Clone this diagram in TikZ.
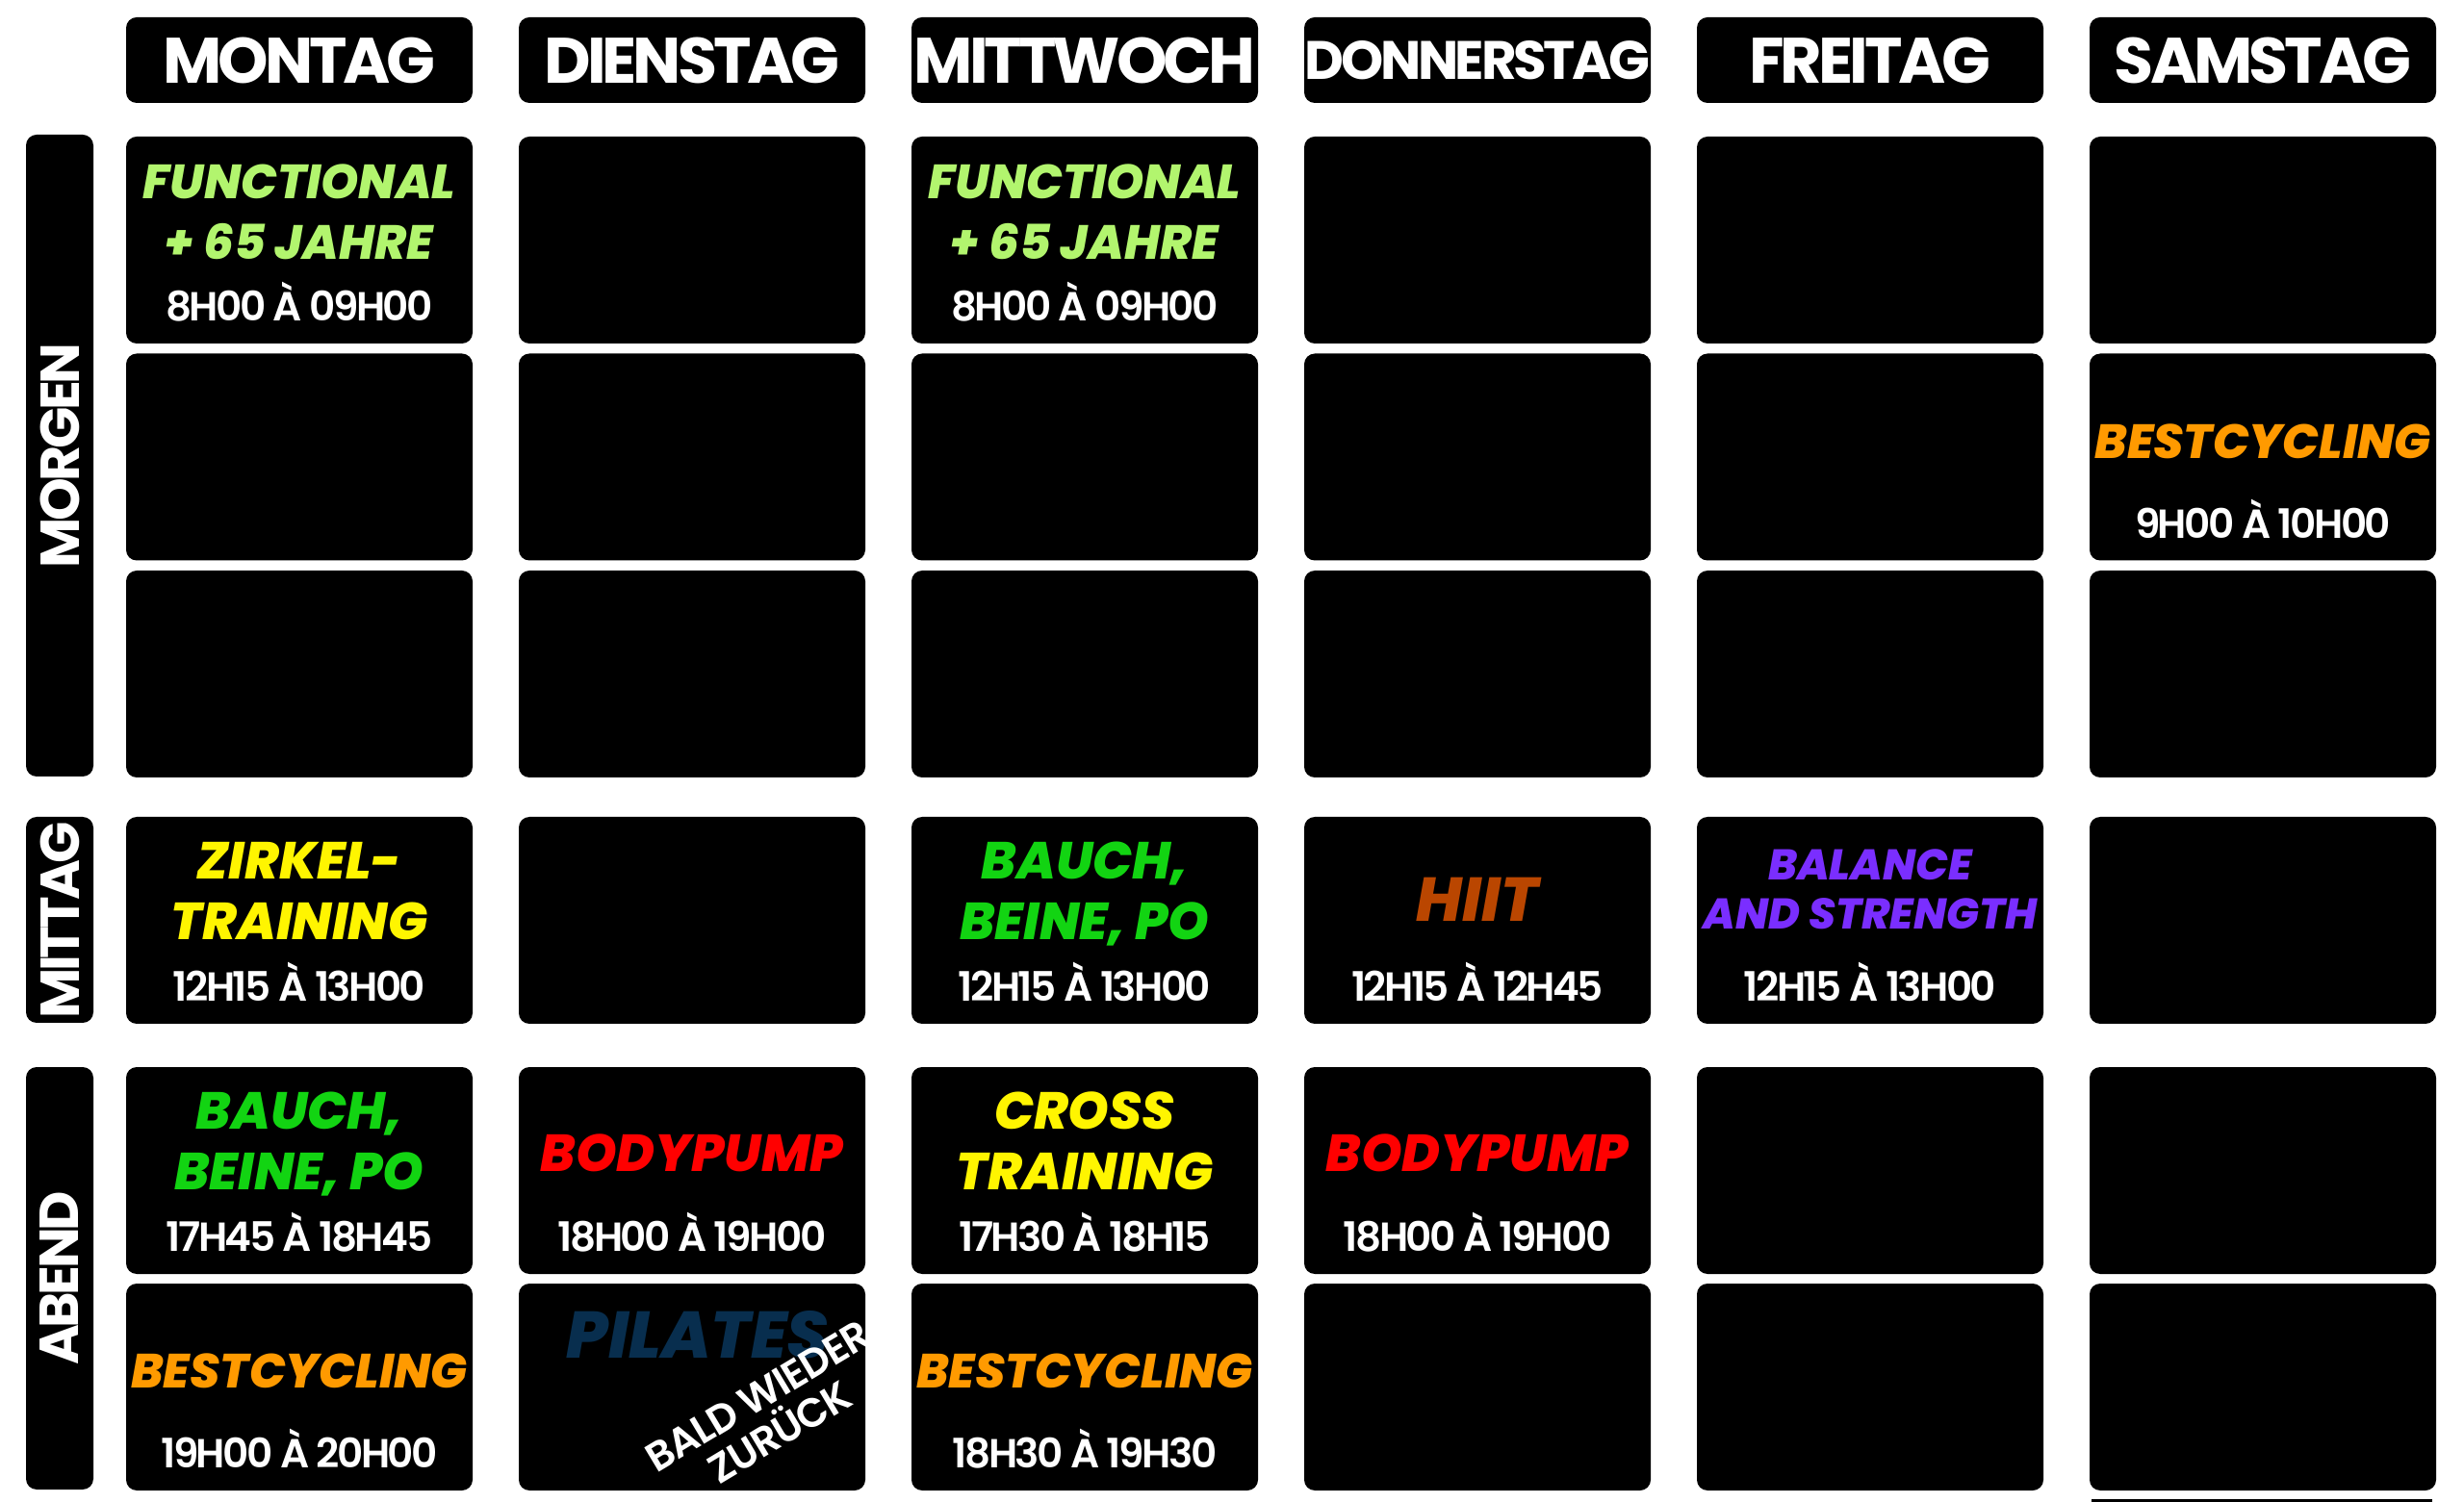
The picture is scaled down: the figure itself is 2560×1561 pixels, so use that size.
\documentclass[tikz,border=0pt]{standalone}
\usepackage{fontspec}
\setmainfont{Poppins}
\newfontfamily\HeadFont{Poppins Bold}[LetterSpace=-6]
\newfontfamily\ActFont{Poppins ExtraBold Italic}
\newfontfamily\TimeFont{Poppins SemiBold}[LetterSpace=-6]
\newfontfamily\NoteFont{Poppins SemiBold}[LetterSpace=-3]
\usetikzlibrary{calc}
\usetikzlibrary{positioning}

\definecolor{fitgreen}{RGB}{178,245,110}
\definecolor{zirkelyellow}{RGB}{255,245,0}
\definecolor{bauchgreen}{RGB}{18,212,18}
\definecolor{hiitbrown}{RGB}{186,70,0}
\definecolor{balancepurple}{RGB}{122,46,255}
\definecolor{pumpred}{RGB}{255,0,0}
\definecolor{cycleorange}{RGB}{255,154,0}
\definecolor{pilatesblue}{RGB}{8,46,78}

\begin{document}
\begin{tikzpicture}[x=0.1mm, y=-0.1mm]

\tikzstyle{daycell}=[fill=black, rounded corners=1.1mm, inner sep=0pt,
	minimum width=36mm, minimum height=21.5mm]
\tikzstyle{dayhead}=[daycell, minimum height=8.9mm]
\tikzstyle{headtext}=[inner sep=0pt, text=white]
\tikzstyle{partbar}=[fill=black, rounded corners=1.1mm, inner sep=0pt,
	minimum width=7mm]
\tikzstyle{parttext}=[inner sep=0pt, rotate=90, text=white,
	font=\HeadFont\fontsize{16.2}{16.2}\selectfont]
\tikzstyle{acttext}=[anchor=base, inner sep=0pt,
	font=\ActFont\fontsize{15.4}{15.4}\selectfont]
\tikzstyle{smallact}=[acttext, font=\ActFont\fontsize{14.2}{14.2}\selectfont]
\tikzstyle{timetext}=[anchor=base, inner sep=0pt, text=white,
	font=\TimeFont\fontsize{12}{12}\selectfont]

\def\ColLeft{131}
\def\ColStep{408}
\def\HalfW{180}
\def\HalfH{107.5}
\def\LineA{-151}
\def\LineB{-88}
\def\LineOne{-107}
\def\LineTime{-24}

% page
\fill[white] (0,0) rectangle (2560,1561);
\useasboundingbox (0,0) rectangle (2560,1561);

% day headers
\foreach \d/\name/\size [count=\i from 0] in
	{mo/MONTAG/19, di/DIENSTAG/19, mi/MITTWOCH/19,
	do/DONNERSTAG/16, fr/FREITAG/19, sa/SAMSTAG/19}
{
	\node[dayhead] (head-\d) at ({\ColLeft + \i*\ColStep + \HalfW}, 62.5) {};
	\node[headtext, font=\HeadFont\fontsize{\size}{\size}\selectfont]
		(head-\d-l) at (head-\d.center) {\name};
}

% cells
\foreach \d [count=\i from 0] in {mo, di, mi, do, fr, sa}
	\foreach \r/\top in {1/142, 2/367.5, 3/593, 4/849, 5/1109, 6/1334}
		\node[daycell] (\d\r) at ({\ColLeft + \i*\ColStep + \HalfW}, {\top + \HalfH}) {};

% sliver of the next row
\fill[black] (2173,1558) rectangle (2527,1561);

% day parts
\node[partbar, minimum height=66.7mm] (morgen) at (62, 473.5) {};
\node[partbar, minimum height=21.4mm] (mittag) at (62, 956) {};
\node[partbar, minimum height=43.9mm] (abend) at (62, 1328.5) {};
\node[parttext] (morgen-l) at (morgen.center) {MORGEN};
\node[parttext] (mittag-l) at (mittag.center) {MITTAG};
\node[parttext] (abend-l) at (abend.center) {ABEND};

% Montag
\node[smallact, text=fitgreen] (mo1-a) at ($(mo1.south)+(0,\LineA)$) {FUNCTIONAL};
\node[smallact, text=fitgreen] (mo1-b) at ($(mo1.south)+(0,\LineB)$) {+ 65 JAHRE};
\node[timetext] (mo1-t) at ($(mo1.south)+(0,\LineTime)$) {8H00 À 09H00};
\node[acttext, text=zirkelyellow] (mo4-a) at ($(mo4.south)+(0,\LineA)$) {ZIRKEL-};
\node[acttext, text=zirkelyellow] (mo4-b) at ($(mo4.south)+(0,\LineB)$) {TRAINING};
\node[timetext] (mo4-t) at ($(mo4.south)+(0,\LineTime)$) {12H15 À 13H00};
\node[acttext, text=bauchgreen] (mo5-a) at ($(mo5.south)+(0,\LineA)$) {BAUCH,};
\node[acttext, text=bauchgreen] (mo5-b) at ($(mo5.south)+(0,\LineB)$) {BEINE, PO};
\node[timetext] (mo5-t) at ($(mo5.south)+(0,\LineTime)$) {17H45 À 18H45};
\node[smallact, text=cycleorange] (mo6-a) at ($(mo6.south)+(0,\LineOne)$) {BESTCYCLING};
\node[timetext] (mo6-t) at ($(mo6.south)+(0,\LineTime)$) {19H00 À 20H00};

% Dienstag
\node[acttext, text=pumpred] (di5-a) at ($(di5.south)+(0,\LineOne)$) {BODYPUMP};
\node[timetext] (di5-t) at ($(di5.south)+(0,\LineTime)$) {18H00 À 19H00};
\node[acttext, text=pilatesblue, font=\ActFont\fontsize{19.5}{19.5}\selectfont]
	(di6-a) at ($(di6.south)+(6,-138)$) {PILATES};
\node[rotate=31, align=center, inner sep=0pt, text=white,
	font=\NoteFont\fontsize{12}{12.4}\selectfont]
	(di6-n) at ($(di6.south)+(80,-80)$) {BALD WIEDER\\ZURÜCK};

% Mittwoch
\node[smallact, text=fitgreen] (mi1-a) at ($(mi1.south)+(0,\LineA)$) {FUNCTIONAL};
\node[smallact, text=fitgreen] (mi1-b) at ($(mi1.south)+(0,\LineB)$) {+ 65 JAHRE};
\node[timetext] (mi1-t) at ($(mi1.south)+(0,\LineTime)$) {8H00 À 09H00};
\node[acttext, text=bauchgreen] (mi4-a) at ($(mi4.south)+(0,\LineA)$) {BAUCH,};
\node[acttext, text=bauchgreen] (mi4-b) at ($(mi4.south)+(0,\LineB)$) {BEINE, PO};
\node[timetext] (mi4-t) at ($(mi4.south)+(0,\LineTime)$) {12H15 À 13H00};
\node[acttext, text=zirkelyellow] (mi5-a) at ($(mi5.south)+(0,\LineA)$) {CROSS};
\node[acttext, text=zirkelyellow] (mi5-b) at ($(mi5.south)+(0,\LineB)$) {TRAINING};
\node[timetext] (mi5-t) at ($(mi5.south)+(0,\LineTime)$) {17H30 À 18H15};
\node[smallact, text=cycleorange] (mi6-a) at ($(mi6.south)+(0,\LineOne)$) {BESTCYCLING};
\node[timetext] (mi6-t) at ($(mi6.south)+(0,\LineTime)$) {18H30 À 19H30};

% Donnerstag
\node[acttext, text=hiitbrown, font=\ActFont\fontsize{18.3}{18.3}\selectfont]
	(do4-a) at ($(do4.south)+(0,\LineOne)$) {HIIT};
\node[timetext] (do4-t) at ($(do4.south)+(0,\LineTime)$) {12H15 À 12H45};
\node[acttext, text=pumpred] (do5-a) at ($(do5.south)+(0,\LineOne)$) {BODYPUMP};
\node[timetext] (do5-t) at ($(do5.south)+(0,\LineTime)$) {18H00 À 19H00};

% Freitag
\node[acttext, text=balancepurple, font=\ActFont\fontsize{12.7}{12.7}\selectfont]
	(fr4-a) at ($(fr4.south)+(0,-150)$) {BALANCE};
\node[acttext, text=balancepurple, font=\ActFont\fontsize{12.7}{12.7}\selectfont]
	(fr4-b) at ($(fr4.south)+(0,-99)$) {AND STRENGTH};
\node[timetext] (fr4-t) at ($(fr4.south)+(0,\LineTime)$) {12H15 À 13H00};

% Samstag
\node[smallact, text=cycleorange] (sa2-a) at ($(sa2.south)+(0,\LineOne)$) {BESTCYCLING};
\node[timetext] (sa2-t) at ($(sa2.south)+(0,\LineTime)$) {9H00 À 10H00};

\end{tikzpicture}
\end{document}
